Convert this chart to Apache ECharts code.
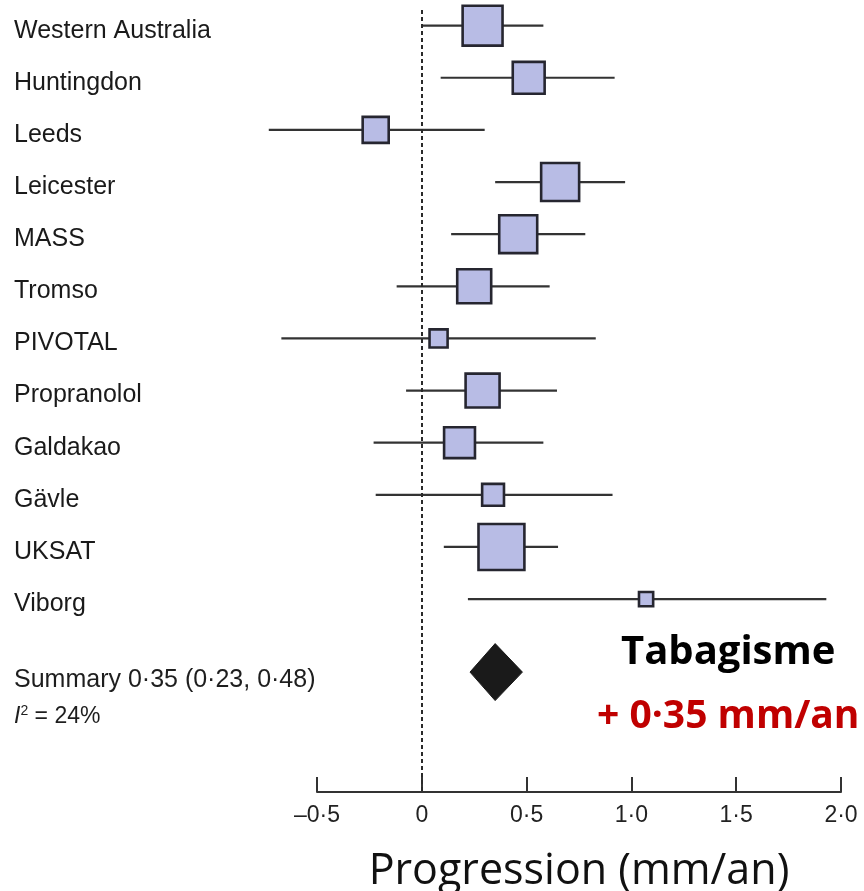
<!DOCTYPE html>
<html>
<head>
<meta charset="utf-8">
<script src="https://cdn.jsdelivr.net/npm/echarts@6/dist/echarts.min.js"></script>
<style>
html,body{margin:0;padding:0;background:#fff;}
#chart{width:864px;height:891px;}
</style>
</head>
<body>
<div id="chart"></div>
<script>
// ---- data ----
const studies = ['Western Australia','Huntingdon','Leeds','Leicester','MASS','Tromso','PIVOTAL','Propranolol','Galdakao','Gävle','UKSAT','Viborg'];
const estimates = [0.29, 0.51, -0.22, 0.66, 0.46, 0.25, 0.08, 0.29, 0.18, 0.34, 0.38, 1.07];
const lower     = [0.00, 0.09, -0.73, 0.35, 0.14, -0.12, -0.67, -0.075, -0.23, -0.22, 0.105, 0.22];
const upper     = [0.58, 0.92, 0.30, 0.97, 0.78, 0.61, 0.83, 0.645, 0.58, 0.91, 0.65, 1.93];
const weights   = [12.7, 8.1, 5.4, 11.5, 11.5, 9.2, 2.6, 9.2, 7.6, 3.8, 16.8, 1.6]; // % weight
const summary = {est: 0.35, lo: 0.23, hi: 0.48};
const i2 = 24;
const tickValues = [-0.5, 0, 0.5, 1.0, 1.5, 2.0];
const tickLabels = ['\u20130\u00b75', '0', '0\u00b75', '1\u00b70', '1\u00b75', '2\u00b70'];

// ---- layout / style constants ----
const SUMMARY_ROW = 12.4;
const I2_ROW = 13.25;
const BOX_SCALE = 11.2;
const LABEL_FONT = '25px "Liberation Sans", Arial, sans-serif';
const fmt = v => v.toFixed(2).replace('.', '\u00b7');

const chart = echarts.init(document.getElementById('chart'), null, {renderer: 'canvas'});

const studyData = studies.map((s, i) => [i, estimates[i], lower[i], upper[i], weights[i]]);

const option = {
  backgroundColor: '#ffffff',
  animation: false,
  grid: {left: 317, right: 23, top: 10, bottom: 99, containLabel: false, outerBoundsMode: 'none'},
  xAxis: {
    type: 'value', min: -0.5, max: 2.0, interval: 0.5,
    splitLine: {show: false},
    axisLine: {show: true, onZero: false, lineStyle: {color: '#333', width: 2}},
    axisTick: {show: true, inside: true, length: 15, lineStyle: {color: '#333', width: 2}},
    axisLabel: {
      margin: 12, color: '#222', fontSize: 23, fontFamily: '"Liberation Sans", Arial, sans-serif',
      formatter: v => { const k = tickValues.findIndex(t => Math.abs(t - v) < 1e-9); return k >= 0 ? tickLabels[k] : ''; }
    },
    name: 'Progression (mm/an)', nameLocation: 'middle', nameGap: 58,
    nameTextStyle: {fontSize: 43, fontFamily: '"Open Sans", sans-serif', color: '#111'}
  },
  yAxis: {type: 'value', inverse: true, min: -0.3, max: 14.7, show: false, splitLine: {show: false}},
  series: [
    {
      type: 'custom', clip: false, silent: true,
      data: studyData,
      encode: {x: [1, 2, 3], y: 0},
      renderItem: (params, api) => {
        const row = api.value(0);
        const pE = api.coord([api.value(1), row]);
        const pL = api.coord([api.value(2), row]);
        const pH = api.coord([api.value(3), row]);
        const side = BOX_SCALE * Math.sqrt(api.value(4));
        return {type: 'group', children: [
          {type: 'line', shape: {x1: pL[0], y1: pL[1], x2: pH[0], y2: pH[1]}, style: {stroke: '#333', lineWidth: 2.2}},
          {type: 'rect', shape: {x: pE[0] - side / 2, y: pE[1] - side / 2, width: side, height: side},
           style: {fill: '#b8bce5', stroke: '#262630', lineWidth: 2.6}},
          {type: 'text', x: 14, y: pE[1] + 5, style: {text: studies[params.dataIndex], font: LABEL_FONT, fill: '#1a1a1a', verticalAlign: 'middle', align: 'left'}}
        ]};
      }
    },
    {
      type: 'custom', clip: false, silent: true,
      data: [[SUMMARY_ROW, summary.est, summary.lo, summary.hi]],
      encode: {x: [1, 2, 3], y: 0},
      renderItem: (params, api) => {
        const row = api.value(0);
        const pE = api.coord([api.value(1), row]);
        const pL = api.coord([api.value(2), row]);
        const pH = api.coord([api.value(3), row]);
        const hh = 28.5;
        const pI2 = api.coord([0, I2_ROW]);
        return {type: 'group', children: [
          {type: 'polygon', shape: {points: [[pL[0], pE[1]], [pE[0], pE[1] - hh], [pH[0], pE[1]], [pE[0], pE[1] + hh]]},
           style: {fill: '#1a1a1a', stroke: '#1a1a1a', lineWidth: 1}},
          {type: 'text', x: 14, y: pE[1] + 8, style: {text: 'Summary ' + fmt(summary.est) + ' (' + fmt(summary.lo) + ', ' + fmt(summary.hi) + ')',
            font: '25px "Liberation Sans", Arial, sans-serif', fill: '#1e1e1e', verticalAlign: 'middle', align: 'left'}},
          {type: 'text', x: 14, y: pI2[1], style: {
            text: '{i|I}{s|2}{n| = ' + i2 + '%}',
            verticalAlign: 'middle', align: 'left',
            rich: {
              i: {font: 'italic 23px "Liberation Sans", Arial, sans-serif', fill: '#1e1e1e', verticalAlign: 'bottom'},
              s: {font: '14px "Liberation Sans", Arial, sans-serif', fill: '#1e1e1e', verticalAlign: 'top', padding: [0, 0, 10, 0]},
              n: {font: '23px "Liberation Sans", Arial, sans-serif', fill: '#1e1e1e', verticalAlign: 'bottom'}
            }}}
        ]};
      },
      markLine: {
        silent: true, symbol: 'none', label: {show: false},
        lineStyle: {type: [4, 3], color: '#2a2a2a', width: 2},
        data: [{xAxis: 0}]
      }
    }
  ],
  graphic: [
    {type: 'text', left: 621, top: 633, style: {text: 'Tabagisme', font: 'bold 40px "Open Sans", sans-serif', fill: '#000'}},
    {type: 'text', left: 597, top: 697, style: {text: '+ 0\u00b735 mm/an', font: 'bold 39px "Open Sans", sans-serif', fill: '#c00000'}}
  ]
};
chart.setOption(option);
</script>
</body>
</html>
